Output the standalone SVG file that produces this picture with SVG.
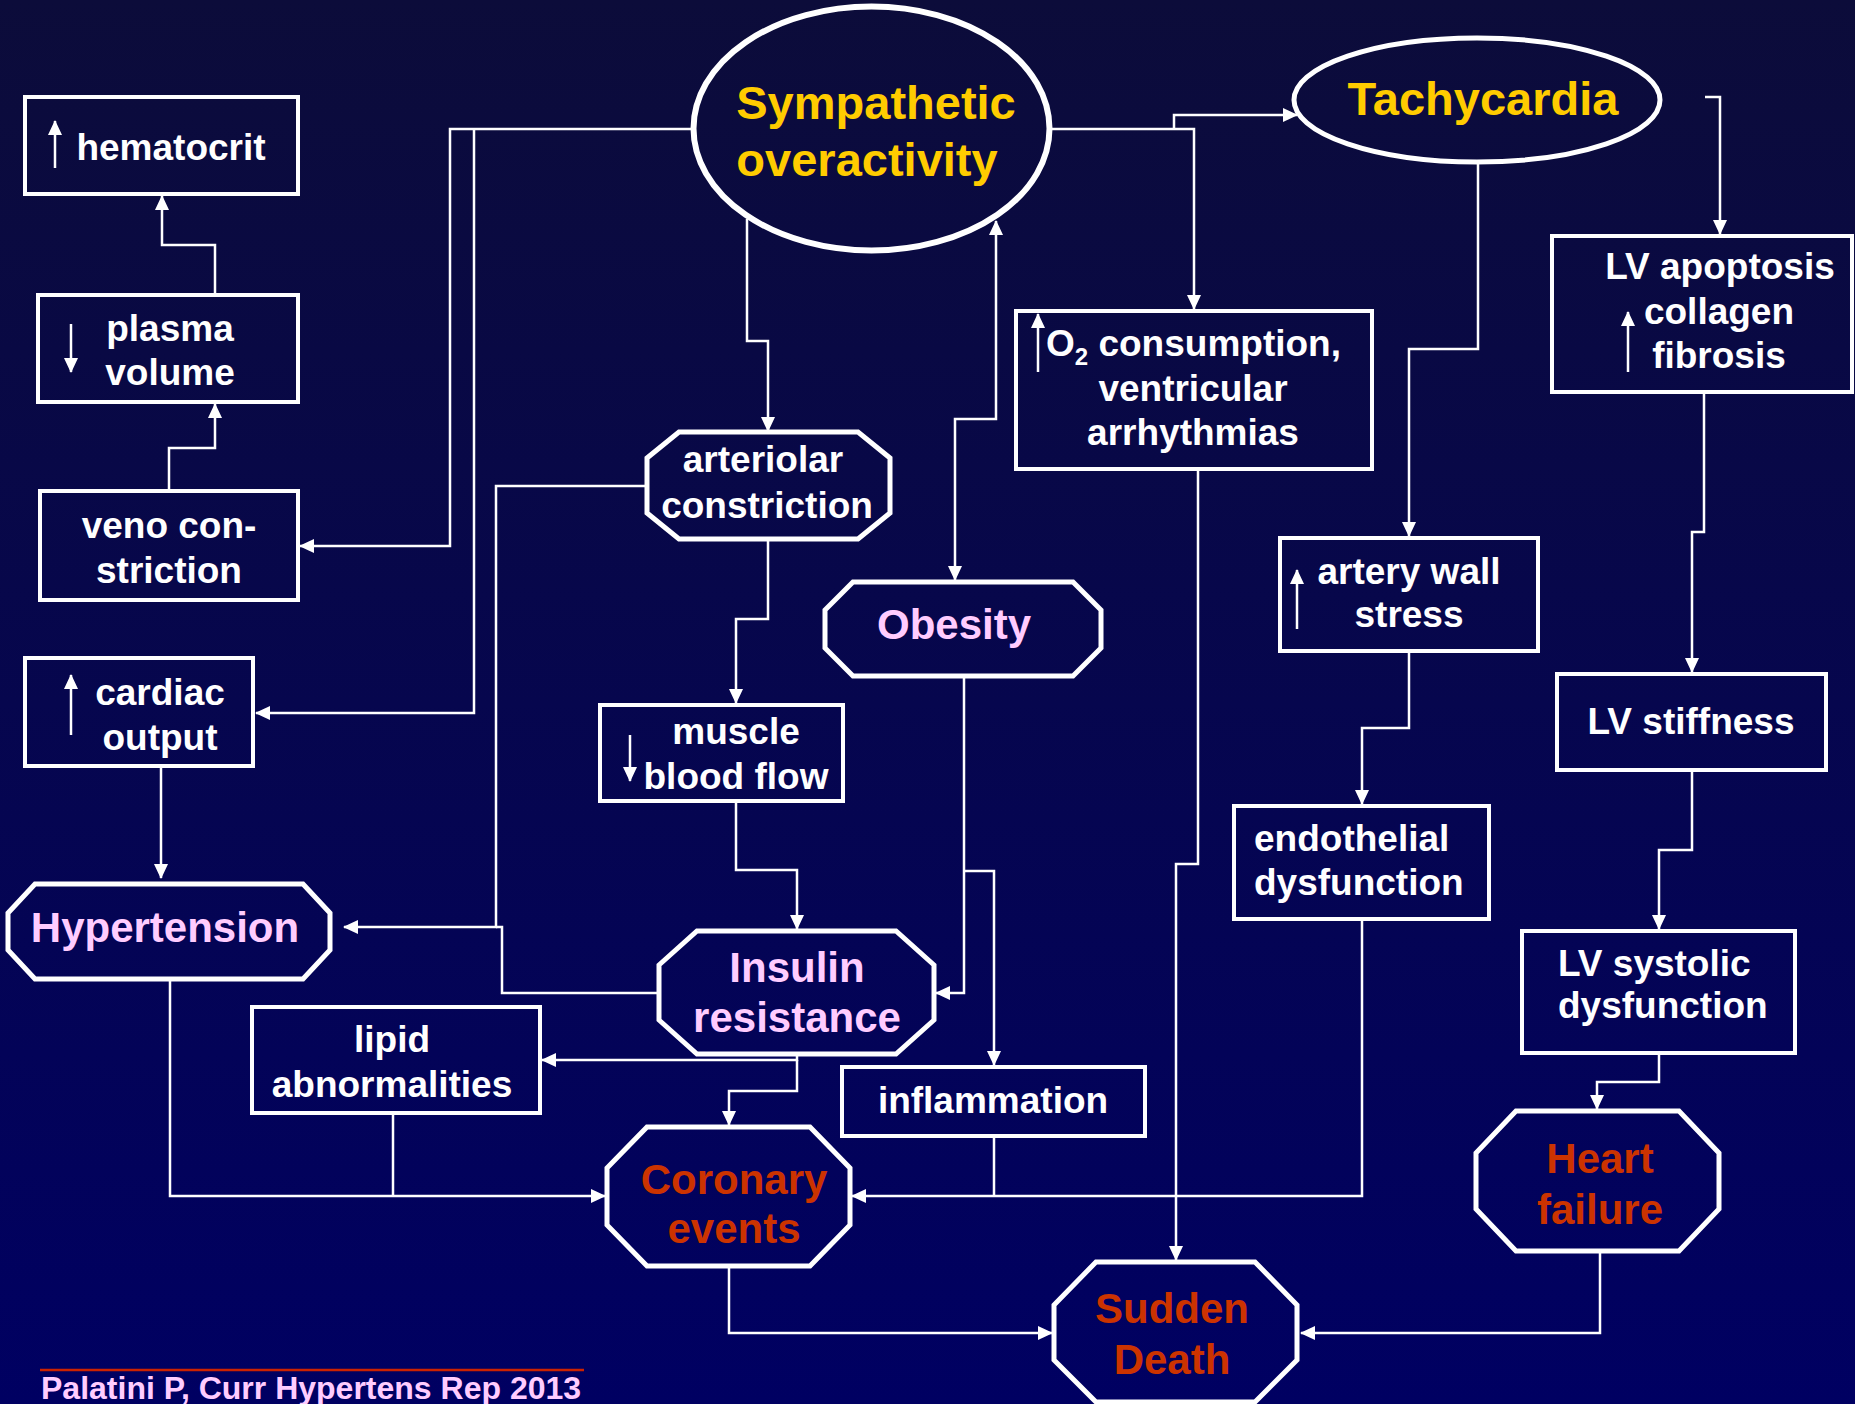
<svg xmlns="http://www.w3.org/2000/svg" width="1855" height="1404" viewBox="0 0 1855 1404">
<defs>
<linearGradient id="bg" x1="0" y1="0" x2="0" y2="1">
<stop offset="0" stop-color="#0C0C3A"/>
<stop offset="1" stop-color="#000062"/>
</linearGradient>
<marker id="ah" markerUnits="userSpaceOnUse" markerWidth="15" markerHeight="14" refX="14" refY="7" orient="auto-start-reverse" viewBox="0 0 15 14">
<path d="M0,0 L15,7 L0,14 z" fill="#fff"/>
</marker>
<marker id="sa" markerUnits="userSpaceOnUse" markerWidth="15" markerHeight="14" refX="14" refY="7" orient="auto" viewBox="0 0 15 14">
<path d="M0,0 L15,7 L0,14 z" fill="#fff"/>
</marker>
<style>
text{font-family:"Liberation Sans",Arial,sans-serif;font-weight:bold;text-anchor:middle}
.w{fill:#fff;font-size:37px}
.p{fill:#FFCCFF;font-size:42px}
.r{fill:#CC3300;font-size:42px}
.y{fill:#FFCC00;font-size:47px}
.box{fill:none;stroke:#fff;stroke-width:4}
.oct{fill:none;stroke:#fff;stroke-width:5}
.ell{fill:none;stroke:#fff;stroke-width:6}
.c{fill:none;stroke:#fff;stroke-width:2.5}
.c path{marker-end:url(#ah)}
.ia{stroke:#fff;stroke-width:2.5;marker-end:url(#sa)}
</style>
</defs>
<rect x="0" y="0" width="1855" height="1404" fill="url(#bg)"/>

<g id="connectors" class="c">
<path d="M215,295 V245 H162 V196"/>
<path d="M169,491 V448 H215 V404"/>
<path d="M693,129 H450 V546 H300"/>
<path d="M474,129 V713 H256"/>
<path d="M646,486 H496 V927 H344"/>
<polyline points="659,993 502,993 502,927 496,927"/>
<path d="M747,219 V341 H768 V431"/>
<path d="M996,221 V419 H955 V580" marker-start="url(#ah)"/>
<path d="M1050,129 H1194 V309"/>
<path d="M1174,129 V115 H1297"/>
<path d="M1478,162 V349 H1409 V536"/>
<path d="M1705,97 H1720 V234"/>
<path d="M1704,392 V532 H1692 V672"/>
<path d="M1692,770 V850 H1659 V929"/>
<path d="M1659,1053 V1082 H1597 V1109"/>
<path d="M1600,1251 V1333 H1301"/>
<path d="M1409,651 V728 H1362 V804"/>
<path d="M1362,919 V1196 H852"/>
<polyline points="994,1137 994,1196"/>
<path d="M1198,468 V864 H1176 V1260"/>
<path d="M964,676 V993 H936"/>
<path d="M964,871 H994 V1065"/>
<path d="M768,540 V619 H736 V703"/>
<path d="M736,801 V870 H797 V929"/>
<path d="M797,1054 V1060 H542"/>
<path d="M797,1060 V1091 H729 V1125"/>
<path d="M170,979 V1196 H605"/>
<polyline points="393,1113 393,1196"/>
<path d="M729,1266 V1333 H1052"/>
<path d="M161,766 V878"/>
</g>

<g id="sympathetic">
<ellipse class="ell" cx="871.5" cy="128.5" rx="178" ry="122"/>
<text class="y" x="876" y="119">Sympathetic</text>
<text class="y" x="867" y="176">overactivity</text>
</g>

<g id="tachycardia">
<ellipse class="ell" cx="1477" cy="100" rx="183" ry="62" style="stroke-width:5"/>
<text class="y" x="1483" y="115">Tachycardia</text>
</g>

<g id="hematocrit">
<rect class="box" x="25" y="97" width="273" height="97"/>
<line class="ia" x1="55" y1="168" x2="55" y2="121"/>
<text class="w" x="171" y="160">hematocrit</text>
</g>

<g id="plasma-volume">
<rect class="box" x="38" y="295" width="260" height="107"/>
<line class="ia" x1="71" y1="324" x2="71" y2="372"/>
<text class="w" x="170" y="341">plasma</text>
<text class="w" x="170" y="385">volume</text>
</g>

<g id="veno-constriction">
<rect class="box" x="40" y="491" width="258" height="109"/>
<text class="w" x="169" y="538">veno con-</text>
<text class="w" x="169" y="583">striction</text>
</g>

<g id="cardiac-output">
<rect class="box" x="25" y="658" width="228" height="108"/>
<line class="ia" x1="71" y1="735" x2="71" y2="675"/>
<text class="w" x="160" y="705">cardiac</text>
<text class="w" x="160" y="750">output</text>
</g>

<g id="hypertension">
<polygon class="oct" points="35,884 303,884 330,913 330,950 303,979 35,979 8,950 8,913"/>
<text class="p" x="165" y="942">Hypertension</text>
</g>

<g id="lipid-abnormalities">
<rect class="box" x="252" y="1007" width="288" height="106"/>
<text class="w" x="392" y="1052">lipid</text>
<text class="w" x="392" y="1097">abnormalities</text>
</g>

<g id="arteriolar-constriction">
<polygon class="oct" points="679,432 858,432 890,458 890,513 858,539 679,539 647,513 647,458"/>
<text class="w" x="763" y="472">arteriolar</text>
<text class="w" x="767" y="518">constriction</text>
</g>

<g id="muscle-blood-flow">
<rect class="box" x="600" y="705" width="243" height="96"/>
<line class="ia" x1="630" y1="735" x2="630" y2="781"/>
<text class="w" x="736" y="744">muscle</text>
<text class="w" x="736" y="789">blood flow</text>
</g>

<g id="obesity">
<polygon class="oct" points="853,582 1073,582 1101,610 1101,648 1073,676 853,676 825,648 825,610"/>
<text class="p" x="954" y="639">Obesity</text>
</g>

<g id="insulin-resistance">
<polygon class="oct" points="697,931 896,931 934,965 934,1020 896,1054 697,1054 659,1020 659,965"/>
<text class="p" x="797" y="982">Insulin</text>
<text class="p" x="797" y="1032">resistance</text>
</g>

<g id="inflammation">
<rect class="box" x="842" y="1067" width="303" height="69"/>
<text class="w" x="993" y="1113">inflammation</text>
</g>

<g id="coronary-events">
<polygon class="oct" points="647,1127 810,1127 850,1168 850,1225 810,1266 647,1266 607,1225 607,1168"/>
<text class="r" x="734" y="1194">Coronary</text>
<text class="r" x="734" y="1243">events</text>
</g>

<g id="o2-consumption">
<rect class="box" x="1016" y="311" width="356" height="158"/>
<line class="ia" x1="1038" y1="372" x2="1038" y2="314"/>
<text class="w" x="1046" y="356" style="text-anchor:start">O<tspan font-size="24" dy="9">2</tspan><tspan dy="-9"> consumption,</tspan></text>
<text class="w" x="1193" y="401">ventricular</text>
<text class="w" x="1193" y="445">arrhythmias</text>
</g>

<g id="sudden-death">
<polygon class="oct" points="1096,1262 1255,1262 1297,1305 1297,1360 1255,1402 1096,1402 1054,1360 1054,1305"/>
<text class="r" x="1172" y="1323">Sudden</text>
<text class="r" x="1172" y="1374">Death</text>
</g>

<g id="artery-wall-stress">
<rect class="box" x="1280" y="538" width="258" height="113"/>
<line class="ia" x1="1297" y1="629" x2="1297" y2="570"/>
<text class="w" x="1409" y="584">artery wall</text>
<text class="w" x="1409" y="627">stress</text>
</g>

<g id="endothelial-dysfunction">
<rect class="box" x="1234" y="806" width="255" height="113"/>
<text class="w" x="1254" y="851" style="text-anchor:start">endothelial</text>
<text class="w" x="1254" y="895" style="text-anchor:start">dysfunction</text>
</g>

<g id="lv-apoptosis">
<rect class="box" x="1552" y="236" width="300" height="156"/>
<line class="ia" x1="1628" y1="372" x2="1628" y2="312"/>
<text class="w" x="1720" y="279">LV apoptosis</text>
<text class="w" x="1719" y="324">collagen</text>
<text class="w" x="1719" y="368">fibrosis</text>
</g>

<g id="lv-stiffness">
<rect class="box" x="1557" y="674" width="269" height="96"/>
<text class="w" x="1691" y="734">LV stiffness</text>
</g>

<g id="lv-systolic-dysfunction">
<rect class="box" x="1522" y="931" width="273" height="122"/>
<text class="w" x="1558" y="976" style="text-anchor:start">LV systolic</text>
<text class="w" x="1558" y="1018" style="text-anchor:start">dysfunction</text>
</g>

<g id="heart-failure">
<polygon class="oct" points="1516,1111 1679,1111 1719,1153 1719,1209 1679,1251 1516,1251 1476,1209 1476,1153"/>
<text class="r" x="1600" y="1173">Heart</text>
<text class="r" x="1600" y="1224">failure</text>
</g>

<g id="citation">
<line x1="40" y1="1370" x2="584" y2="1370" stroke="#CC2200" stroke-width="2.5"/>
<text x="41" y="1399" style="text-anchor:start;fill:#FFCCFF;font-size:32px">Palatini P, Curr Hypertens Rep 2013</text>
</g>
</svg>
